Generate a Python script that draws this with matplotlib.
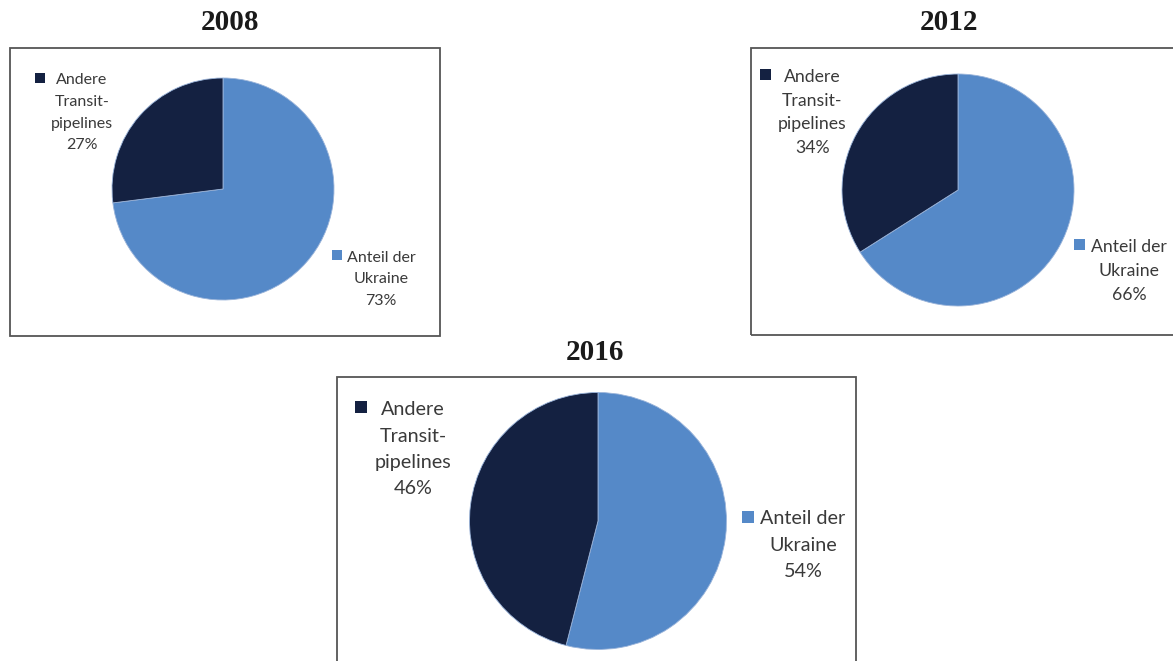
import matplotlib
matplotlib.use("Agg")
import matplotlib.pyplot as plt
from matplotlib.patches import Rectangle

# ---- data ----
years = ["2008", "2012", "2016"]
share_ukraine = [73, 66, 54]
share_other = [27, 34, 46]
label_ukraine = ["Anteil der", "Ukraine"]
label_other = ["Andere", "Transit-", "pipelines"]

# ---- style ----
W, H = 1173, 661
C_UKR = "#5589c8"
C_OTH = "#142141"
TXT = "#3a3a3a"
BOX = "#555555"
SANS = "Lato"
SERIF = "Liberation Serif"

# layout per chart (pixel coords, y from top)
layouts = [
    dict(box=(10, 48, 440, 336), center=(223, 189), r=111, title=(230, 22), fs=11.5, sp=21.6,
         left=(82, 84.5), lsq=(35, 73, 10), right=(381, 261.7), rsq=(332, 250, 10)),
    dict(box=(751, 48, 1180, 335), center=(958, 190), r=116, title=(949, 22), fs=12.7, sp=23.9,
         left=(812.5, 81.7), lsq=(760, 69, 11), right=(1129, 251.7), rsq=(1074, 239, 10.5)),
    dict(box=(337, 377, 856, 700), center=(598, 521), r=128.5, title=(595, 353), fs=14.2, sp=26.5,
         left=(413, 415), lsq=(355, 401, 11.5), right=(803, 524.3), rsq=(742, 511, 12)),
]

fig = plt.figure(figsize=(W / 100, H / 100), dpi=100)
ax = fig.add_axes([0, 0, 1, 1])

def Y(y):
    return H - y

for i, lay in enumerate(layouts):
    x0, y0, x1, y1 = lay["box"]
    ax.add_patch(Rectangle((x0, Y(y1)), x1 - x0, y1 - y0, fill=False,
                           edgecolor=BOX, linewidth=1.3, zorder=1))
    cx, cy = lay["center"]
    ax.pie([share_ukraine[i], share_other[i]], colors=[C_UKR, C_OTH],
           startangle=90, counterclock=False, center=(cx, Y(cy)), radius=lay["r"],
           wedgeprops=dict(edgecolor="#9ab4da", linewidth=0.6), frame=True)
    tx, ty = lay["title"]
    ax.text(tx, Y(ty), years[i], ha="center", va="center", fontsize=21,
            fontweight="bold", family=SERIF, color="#1a1a1a")
    fs, sp = lay["fs"], lay["sp"]
    # left label (other pipelines)
    lx, lb = lay["left"]
    lines = label_other + [f"{share_other[i]}%"]
    for k, line in enumerate(lines):
        ax.text(lx, Y(lb + k * sp), line, ha="center", va="baseline",
                fontsize=fs, family=SANS, color=TXT)
    sx, sy, ss = lay["lsq"]
    ax.add_patch(Rectangle((sx, Y(sy + ss)), ss, ss, color=C_OTH, linewidth=0))
    # right label (Ukraine)
    rx, rb = lay["right"]
    lines = label_ukraine + [f"{share_ukraine[i]}%"]
    for k, line in enumerate(lines):
        ax.text(rx, Y(rb + k * sp), line, ha="center", va="baseline",
                fontsize=fs, family=SANS, color=TXT)
    sx, sy, ss = lay["rsq"]
    ax.add_patch(Rectangle((sx, Y(sy + ss)), ss, ss, color=C_UKR, linewidth=0))

ax.set_xlim(0, W)
ax.set_ylim(0, H)
ax.set_aspect("auto")
ax.axis("off")

fig.savefig("out.png", dpi=100, facecolor="white")
